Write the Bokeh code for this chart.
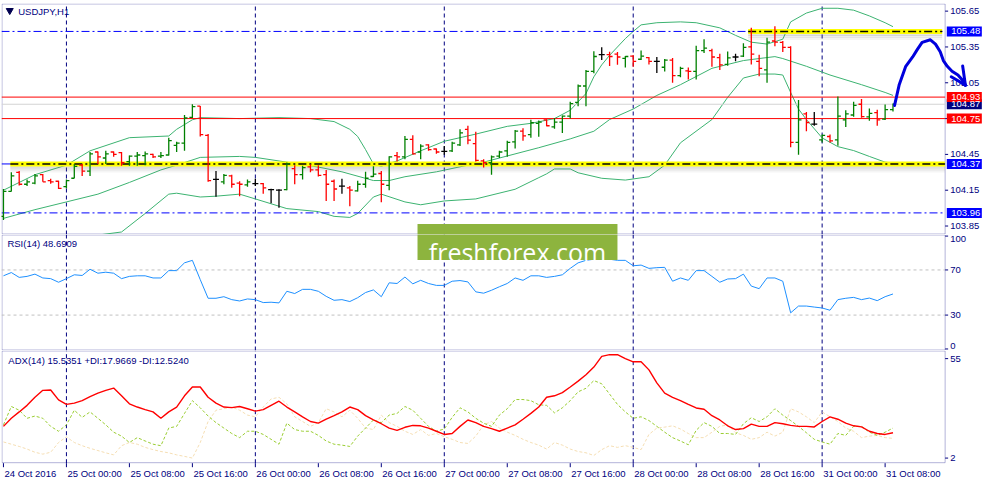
import numpy as np
from bokeh.plotting import figure
from bokeh.models import Range1d, BoxAnnotation
from bokeh.layouts import column
from bokeh.embed import file_html
from bokeh.resources import INLINE
from bokeh.core.properties import value

# ---------------- data (USDJPY H1, 24 Oct 16:00 .. 31 Oct 09:00) ----------------
opens = [103.93,104.14,104.30,104.20,104.21,104.28,104.23,104.225,104.18,104.25,
104.36,104.31,104.47,104.42,104.47,104.465,104.39,104.435,104.44,104.45,
104.435,104.445,104.525,104.545,104.76,104.855,104.61,104.24,104.22,104.27,
104.21,104.195,104.205,104.205,104.155,104.15,104.155,104.33,104.28,104.345,
104.32,104.28,104.225,104.185,104.17,104.145,104.20,104.265,104.29,104.19,
104.44,104.43,104.575,104.47,104.53,104.495,104.475,104.48,104.53,104.66,
104.54,104.395,104.38,104.435,104.48,104.555,104.645,104.615,104.71,104.74,
104.68,104.72,104.77,104.885,105.023,105.145,105.285,105.285,105.29,105.255,
105.274,105.247,105.26,105.23,105.18,105.24,105.11,105.15,105.145,105.32,
105.32,105.26,105.204,105.266,105.274,105.35,105.23,105.158,105.40,105.388,
105.347,104.55,104.79,104.704,104.571,104.60,104.571,104.74,104.78,104.87,
104.765,104.80,104.745,104.825]
highs = [104.16,104.30,104.31,104.24,104.285,104.285,104.245,104.23,104.24,104.37,
104.37,104.47,104.475,104.48,104.475,104.47,104.44,104.47,104.475,104.455,
104.47,104.59,104.555,104.78,104.87,104.855,104.62,104.31,104.285,104.28,
104.225,104.24,104.245,104.21,104.163,104.158,104.383,104.36,104.355,104.365,
104.36,104.32,104.24,104.245,104.185,104.23,104.305,104.35,104.31,104.435,
104.47,104.605,104.61,104.535,104.535,104.50,104.52,104.555,104.66,104.69,
104.64,104.41,104.44,104.48,104.565,104.655,104.67,104.74,104.734,104.745,
104.755,104.775,104.89,105.036,105.158,105.315,105.347,105.31,105.307,105.274,
105.28,105.32,105.266,105.266,105.25,105.258,105.185,105.177,105.36,105.415,
105.334,105.293,105.312,105.293,105.382,105.51,105.285,105.428,105.523,105.40,
105.355,104.906,104.806,104.806,104.617,104.617,104.934,104.82,104.89,104.915,
104.834,104.825,104.869,104.877]
lows = [103.90,104.14,104.19,104.185,104.20,104.22,104.205,104.16,104.165,104.25,
104.27,104.27,104.37,104.37,104.43,104.355,104.355,104.355,104.36,104.42,
104.42,104.44,104.47,104.48,104.755,104.60,104.22,104.095,104.20,104.17,
104.10,104.18,104.185,104.12,104.04,104.004,104.15,104.20,104.24,104.30,
104.265,104.06,104.06,104.12,104.015,104.14,104.17,104.26,104.05,104.15,
104.39,104.41,104.45,104.41,104.48,104.455,104.447,104.47,104.52,104.535,
104.39,104.34,104.28,104.42,104.43,104.50,104.565,104.59,104.598,104.685,
104.665,104.63,104.75,104.853,104.853,105.13,105.24,105.19,105.20,105.177,
105.185,105.24,105.204,105.131,105.145,105.05,105.096,105.077,105.077,105.30,
105.185,105.158,105.193,105.23,105.266,105.204,105.104,105.05,105.355,105.307,
104.51,104.447,104.644,104.69,104.55,104.55,104.523,104.68,104.766,104.758,
104.731,104.69,104.739,104.81]
closes = [104.14,104.27,104.20,104.22,104.27,104.22,104.22,104.165,104.23,104.35,
104.31,104.455,104.43,104.455,104.45,104.38,104.435,104.445,104.455,104.43,
104.44,104.565,104.545,104.755,104.85,104.615,104.23,104.24,104.275,104.20,
104.20,104.22,104.205,104.17,104.155,104.15,104.37,104.28,104.34,104.32,
104.275,104.20,104.16,104.185,104.15,104.20,104.25,104.285,104.20,104.43,
104.43,104.575,104.455,104.52,104.49,104.47,104.475,104.545,104.63,104.57,
104.40,104.38,104.43,104.47,104.55,104.645,104.605,104.715,104.72,104.69,
104.72,104.77,104.875,105.023,105.145,105.27,105.285,105.27,105.266,105.27,
105.23,105.274,105.23,105.23,105.24,105.11,105.17,105.145,105.32,105.34,
105.266,105.20,105.258,105.266,105.347,105.29,105.17,105.39,105.39,105.347,
104.55,104.74,104.717,104.704,104.609,104.563,104.77,104.79,104.86,104.766,
104.793,104.74,104.825,104.87]

# Bollinger bands read at selected bars
bb_up_x = [0,4,8,11,16,21,22,24,25,30,35,39,42,44,45,46,47,48,49,50,53,56,60,64,67,70,72,74,75,76,
           77,79,80,81,83,86,88,91,93,95,97,99,100,102,104,106,108,110,112,113]
bb_up = [104.15,104.28,104.36,104.48,104.59,104.604,104.66,104.74,104.758,104.75,
         104.758,104.75,104.725,104.66,104.60,104.49,104.37,104.35,104.375,104.395,
         104.48,104.56,104.62,104.685,104.71,104.75,104.82,104.96,105.10,105.20,
         105.28,105.42,105.48,105.535,105.553,105.56,105.553,105.51,105.447,105.39,
         105.374,105.415,105.56,105.634,105.674,105.674,105.658,105.61,105.553,105.52]
bb_mid_x = [0,4,8,12,16,20,22,25,30,32,36,40,43,47,49,51,55,59,61,68,72,75,77,80,83,86,90,94,96,98,
            99,102,105,109,112,113]
bb_mid = [103.914,103.987,104.052,104.117,104.215,104.32,104.36,104.425,104.433,104.425,
          104.385,104.344,104.304,104.231,104.231,104.263,104.304,104.36,104.385,104.506,
          104.58,104.644,104.742,104.83,104.944,105.034,105.171,105.236,105.253,105.269,
          105.253,105.188,105.115,105.034,104.969,104.944]
bb_low_x = [0,8,15,18,21,22,25,27,30,32,36,40,42,44,45,47,48,51,53,56,60,65,68,69,70,72,73,76,79,82,
            84,86,90,92,94,96,98,99,100,101,102,104,106,108,110,112,113]
bb_low = [103.68,103.74,103.80,103.955,104.117,104.125,104.093,104.10,104.117,104.077,
          103.996,103.971,103.931,103.922,103.955,104.093,104.117,104.052,104.028,104.06,
          104.077,104.158,104.255,104.287,104.328,104.328,104.296,104.25,104.235,104.263,
          104.36,104.547,104.742,104.928,105.09,105.123,105.123,105.115,104.969,104.83,
          104.742,104.588,104.515,104.482,104.433,104.385,104.377]

rsi = [64.8,67.7,63.4,64.3,66.3,62.9,62.3,59.1,62.3,65.7,
       65.1,70.6,67.1,68.0,67.1,62.3,64.3,64.8,64.8,62.9,
       62.9,69.4,69.4,76.3,78.5,61.4,44.9,44.9,46.3,43.7,
       42.5,44.3,43.7,41.1,41.4,40.8,51.1,49.1,52.8,52.8,
       51.1,46.6,43.1,43.7,42.0,45.4,50.0,52.3,46.3,58.6,
       58.0,63.7,57.7,60.8,58.0,56.3,56.3,60.0,60.6,59.4,
       50.6,49.4,52.0,55.1,58.0,62.9,60.8,64.8,64.8,63.4,
       64.3,65.7,71.4,76.3,78.5,79.5,80.0,79.5,78.5,78.5,
       73.7,74.3,71.4,72.0,72.3,60.0,62.9,60.8,69.4,69.4,
       64.3,59.1,62.0,62.3,66.3,55.7,53.4,62.9,62.9,60.0,
       32.0,38.0,38.0,37.1,36.3,34.3,43.7,44.9,45.7,43.7,
       45.1,42.8,46.3,48.7]
rsi_levels = [70, 30]

adx = [18.9,23.2,26.6,30.1,34.4,38.1,38.3,33.0,30.6,31.3,
       32.6,34.7,36.6,38.1,39.3,35.2,30.9,29.2,27.8,26.6,
       23.2,26.6,29.2,35.2,39.9,39.9,34.4,31.3,29.2,28.9,
       29.5,28.3,27.0,27.8,30.1,32.3,29.2,26.6,24.0,21.5,
       20.6,22.7,24.6,26.6,29.2,27.8,24.6,22.3,20.3,18.0,
       16.8,18.4,19.4,19.2,18.0,16.3,14.6,15.1,18.9,22.3,
       20.9,18.9,17.7,16.3,18.0,19.7,22.7,25.8,29.2,34.4,
       35.2,36.9,39.9,43.0,46.4,50.5,56.2,57.1,57.1,55.0,
       53.3,53.3,49.0,42.1,36.6,34.4,32.6,30.6,28.7,28.0,
       24.6,22.3,19.2,17.2,17.7,20.1,18.9,18.9,20.9,20.3,
       19.4,18.9,18.9,18.6,21.5,24.0,22.7,20.6,19.2,18.6,
       16.3,15.1,14.6,15.5]
plus_di = [19.7,29.5,27.5,23.2,24.4,23.2,18.9,16.3,19.7,27.5,
           23.7,26.6,23.2,19.7,15.8,13.7,10.3,12.9,11.1,9.4,
           8.6,18.0,18.9,25.8,32.6,28.8,24.4,20.9,18.0,15.1,
           12.9,16.3,16.3,14.6,12.0,9.4,20.6,17.2,16.3,16.3,
           14.1,11.1,9.4,8.9,8.2,13.7,18.0,22.3,20.9,24.9,
           25.8,29.5,27.5,23.2,18.9,16.3,17.5,23.7,28.8,26.6,
           23.2,20.6,18.9,24.9,28.3,33.2,33.2,32.6,30.4,30.1,
           26.1,28.8,32.6,37.3,39.2,43.3,41.6,36.1,30.6,26.6,
           23.2,24.0,22.0,18.9,15.8,12.9,11.1,9.1,16.8,20.9,
           18.9,15.1,15.1,14.6,20.3,23.5,21.5,24.0,28.3,24.9,
           22.0,18.9,15.5,12.0,10.6,9.4,15.1,14.1,18.9,18.9,
           15.8,14.1,15.8,18.0]
minus_di = [10.6,9.4,8.2,6.8,5.1,4.1,5.1,10.3,13.3,10.3,
            8.6,7.2,6.0,4.8,3.7,8.6,10.3,9.4,7.7,6.5,
            5.5,4.8,3.7,2.9,2.0,10.3,21.5,27.5,28.3,29.2,
            27.5,24.9,24.0,29.2,33.5,34.4,30.9,24.0,21.5,18.9,
            20.9,28.3,26.6,24.0,27.5,23.2,18.0,17.2,24.9,20.9,
            18.9,16.3,14.6,17.2,14.1,15.1,13.4,12.0,10.3,9.8,
            13.7,19.7,21.5,18.0,15.8,14.1,12.0,10.3,8.9,6.8,
            10.3,8.9,6.8,5.5,4.8,3.4,6.5,8.6,7.7,8.6,
            7.7,6.5,14.6,18.0,18.5,19.2,17.5,15.1,12.9,12.9,
            15.8,18.9,19.7,15.5,14.1,12.0,12.9,15.8,13.7,15.8,
            28.3,26.6,24.0,20.9,26.6,24.0,21.5,18.0,16.3,12.9,
            13.7,14.1,12.9,12.5]

# horizontal objects
red_levels = [104.93, 104.75]
bid_level = [104.87]
blue_dashdot_levels = [105.48, 103.96]
blue_solid_levels = [104.37]
yellow_levels = [104.37, 105.48]
yellow_start = [0.875, 94.6]
yellow_end = [119.6, 119.25]

# hand-drawn forecast arrow
fc_x = [113.2,113.8,114.6,115.5,116.1,116.7,117.75,118.4,119.0,119.4,119.9,120.5,121.25,121.9,122.2]
fc_y = [104.86,105.036,105.185,105.266,105.33,105.388,105.41,105.374,105.31,105.236,105.188,105.147,105.115,105.066,105.03]
head_xs = [[121.85, 122.2], [120.4, 122.2]]
head_ys = [[105.19, 105.03], [105.10, 105.03]]

price_ticks = [105.65, 105.35, 105.05, 104.75, 104.45, 104.15, 103.85]
price_tick_labels = ["105.65", "105.35", "105.05", "104.75", "104.45", "104.15", "103.85"]
box_levels = [105.48, 104.87, 104.93, 104.75, 104.37, 103.96]
box_labels = ["105.48", "104.87", "104.93", "104.75", "104.37", "103.96"]
box_colors = ["#0000FF", "#000080", "#FF0000", "#FF0000", "#0000FF", "#0000FF"]

day_idx = [8, 32, 56, 80, 104]
tick_idx = list(range(0, 113, 8))
tick_labels = ["24 Oct 2016", "25 Oct 00:00", "25 Oct 08:00", "25 Oct 16:00", "26 Oct 00:00",
               "26 Oct 08:00", "26 Oct 16:00", "27 Oct 00:00", "27 Oct 08:00", "27 Oct 16:00",
               "28 Oct 00:00", "28 Oct 08:00", "28 Oct 16:00", "31 Oct 00:00", "31 Oct 08:00"]

# ---------------- layout constants ----------------
NAVY = "#000080"
FONT = value("Liberation Sans")
FS = "9.5px"
PXB = 7.872             # pixels per bar
XL = -0.248
XR = XL + 983 / PXB
AX = 119.625            # right price axis position (bar units)
TK = 0.38               # OHLC tick length (bars)
W = 984

P_BOT, P_TOP = 103.779, 105.714
R_BOT, R_TOP = -1.37, 101.4
A_BOT, A_TOP, A_PANEL = -12.08, 59.33, -0.73

xr = Range1d(XL, XR)


def make(h, y0, y1, top, bottom):
    p = figure(width=W, height=h, x_range=xr, y_range=Range1d(y0, y1),
               output_backend="svg", toolbar_location=None,
               x_axis_location=None, y_axis_location=None,
               min_border_left=1, min_border_right=0,
               min_border_top=top, min_border_bottom=bottom)
    p.grid.visible = False
    p.outline_line_color = None
    p.background_fill_color = "white"
    p.border_fill_color = "white"
    return p


def panel(p, bot, top, ppu):
    ins = 0.5 / ppu
    p.add_layout(BoxAnnotation(left=XL + 0.5 / PXB, right=AX, top=top - ins, bottom=bot + ins,
                               fill_alpha=0, line_color=NAVY, line_width=1, level="underlay"))
    n = len(day_idx)
    p.segment(x0=day_idx, x1=day_idx, y0=[bot] * n, y1=[top] * n,
              line_color=NAVY, line_dash="4 3", line_width=1)


def right_labels(p, vals, labels, baseline="middle"):
    n = len(vals)
    p.segment(x0=[AX] * n, x1=[AX + 3 / PXB] * n, y0=vals, y1=vals, line_color=NAVY, line_width=1)
    p.text(x=[AX] * n, y=vals, text=labels, x_offset=5, text_baseline=baseline, text_align="left",
           text_font=FONT, text_font_size=FS, text_color=NAVY)


# ---------------- price panel ----------------
p1 = make(234, P_BOT, P_TOP, 3, 0)
ppu1 = 231 / (P_TOP - P_BOT)
panel(p1, P_BOT, P_TOP, ppu1)

BB = "#3CB371"
p1.line(bb_up_x, bb_up, line_color=BB, line_width=1)
p1.line(bb_mid_x, bb_mid, line_color=BB, line_width=1)
p1.line(bb_low_x, bb_low, line_color=BB, line_width=1)

def hseg(p, levels, **kw):
    n = len(levels)
    p.segment(x0=[XL] * n, x1=[AX] * n, y0=levels, y1=levels, **kw)

hseg(p1, blue_solid_levels, line_color="#0000FF", line_width=1)
hseg(p1, blue_dashdot_levels, line_color="#0000FF", line_width=1, line_dash="8 3 2 3")
hseg(p1, bid_level, line_color="#D3D3D3", line_width=1)
hseg(p1, red_levels, line_color="#FF0000", line_width=1)

ylv = np.array(yellow_levels)
for off, alpha in [(3, 0.18), (5, 0.12), (7, 0.07)]:
    p1.segment(x0=yellow_start, x1=yellow_end, y0=ylv - off / ppu1, y1=ylv - off / ppu1,
               line_color="#707070", line_alpha=alpha, line_width=3)
p1.segment(x0=yellow_start, x1=yellow_end, y0=ylv, y1=ylv, line_color="#FFFF00", line_width=5)
p1.segment(x0=yellow_start, x1=yellow_end, y0=ylv, y1=ylv, line_color="black",
           line_width=1.5, line_dash="8 3 2 3")

idx = np.arange(len(closes))
o = np.array(opens); c = np.array(closes)
cols = ["#008000" if cc > oo else ("#FF0000" if cc < oo else "black") for oo, cc in zip(o, c)]
p1.segment(x0=idx, x1=idx, y0=lows, y1=highs, line_color=cols, line_width=1.3)
p1.segment(x0=idx - TK, x1=idx, y0=opens, y1=opens, line_color=cols, line_width=1.3)
p1.segment(x0=idx, x1=idx + TK, y0=closes, y1=closes, line_color=cols, line_width=1.3)

# watermark (upper part)
WM_L, WM_R = 52.6, 78.0
p1.quad(left=[WM_L], right=[WM_R], top=[103.866], bottom=[P_BOT - 0.1], fill_color="#8DB43E", line_color=None)

# right axis
right_labels(p1, price_ticks, price_tick_labels)
BOX_C, BOX_W = 122.06, 4.45
p1.rect(x=[BOX_C] * len(box_levels), y=box_levels, width=BOX_W, height=10, height_units="screen",
        fill_color=box_colors, line_color=None)
p1.text(x=[AX] * len(box_levels), y=box_levels, text=box_labels, x_offset=6, text_baseline="middle",
        text_font=FONT, text_font_size=FS, text_color="white")

# forecast arrow
p1.line(fc_x, fc_y, line_color="#0000DD", line_width=3, line_join="round", line_cap="round")
p1.multi_line(head_xs, head_ys, line_color="#0000DD", line_width=3, line_cap="round")

# title
p1.scatter(x=[0.8], y=[105.655], marker="inverted_triangle", size=7, color="#000050")
p1.text(x=[1.875], y=[105.65], text=["USDJPY,H1"], text_baseline="middle",
        text_font=FONT, text_font_size=FS, text_color=NAVY)

# ---------------- RSI panel ----------------
p2 = make(116, R_BOT, R_TOP, 0, 0)
ppu2 = 116 / (R_TOP - R_BOT)
panel(p2, R_BOT, R_TOP, ppu2)
hseg(p2, rsi_levels, line_color="#C0C0C0", line_width=1, line_dash="3 3")
p2.line(idx, rsi, line_color="#1E90FF", line_width=1)
p2.quad(left=[WM_L], right=[WM_R], top=[R_TOP + 5], bottom=[78.8], fill_color="#8DB43E", line_color=None)
p2.text(x=[(WM_L + WM_R) / 2], y=[85.7], text=["freshforex.com"], text_align="center",
        text_baseline="alphabetic", text_font=value("Open Sans"), text_font_size="25px", text_color="white")
right_labels(p2, [100], ["100"], "top")
right_labels(p2, [70, 30], ["70", "30"], "middle")
right_labels(p2, [0], ["0"], "bottom")
p2.text(x=[0.5], y=[93.4], text=["RSI(14) 48.6909"], text_baseline="middle",
        text_font=FONT, text_font_size=FS, text_color=NAVY)

# ---------------- ADX panel ----------------
p3 = make(134, A_BOT, A_TOP, 0, 0)
ppu3 = 134 / (A_TOP - A_BOT)
panel(p3, A_PANEL, A_TOP, ppu3)
p3.line(idx, minus_di, line_color="#F5DEB3", line_width=1, line_dash="3 2")
p3.line(idx, plus_di, line_color="#9ACD32", line_width=1, line_dash="3 2")
p3.line(idx, adx, line_color="#FF0000", line_width=1.4)
right_labels(p3, [55, 2], ["55", "2"])
p3.text(x=[0.625], y=[53.97], text=["ADX(14) 15.5351 +DI:17.9669 -DI:12.5240"], text_baseline="middle",
        text_font=FONT, text_font_size=FS, text_color=NAVY)
# time axis under the ADX panel
nt = len(tick_idx)
p3.segment(x0=tick_idx, x1=tick_idx, y0=[A_PANEL] * nt, y1=[A_PANEL - 4 / ppu3] * nt,
           line_color=NAVY, line_width=1)
p3.text(x=tick_idx, y=[A_PANEL - 5 / ppu3] * nt, text=tick_labels, x_offset=1,
        text_align="left", text_baseline="top", text_font=FONT, text_font_size=FS, text_color=NAVY)

layout = column(p1, p2, p3, spacing=0)
open("out.html", "w").write(file_html(layout, INLINE))
